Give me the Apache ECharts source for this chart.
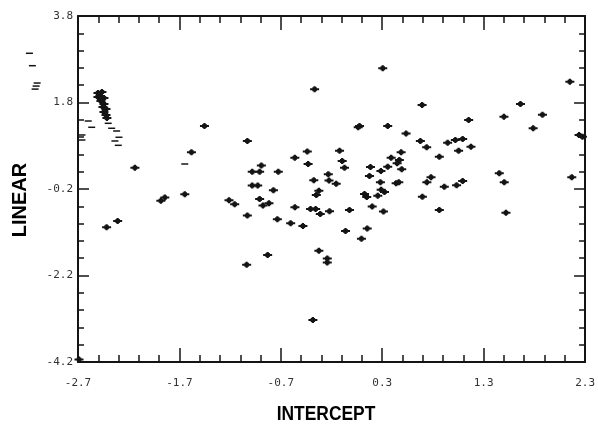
<!DOCTYPE html>
<html>
<head>
<meta charset="utf-8">
<script src="https://cdn.jsdelivr.net/npm/echarts@6/dist/echarts.min.js"></script>
<style>
html,body{margin:0;padding:0;background:#fff;}
#chart{width:598px;height:426px;}
</style>
</head>
<body>
<div id="chart"></div>
<script>
// Axis titles and tick values
const xName = 'INTERCEPT';
const yName = 'LINEAR';
const xTicks = [-2.7, -1.7, -0.7, 0.3, 1.3, 2.3];
const yTicks = [-4.2, -2.2, -0.2, 1.8, 3.8];

// Plotted "+" markers
const intercept = [
  -0.367, 0.305, 0.693, 0.354, 0.535, 0.676, 0.738, 0.863, 0.945, 1.021,
  1.093, 1.053, 1.152, 1.175, 1.500, 1.663, 1.880, 1.788, 2.150, 2.241,
  2.274, 2.169, 1.454, 1.503, 1.520, 0.863, 0.312, 0.781, 0.740, 0.912,
  1.033, 1.093, 0.696, 0.486, 0.388, 0.469, 0.447, 0.354, 0.492, 0.287,
  0.184, 0.174, 0.282, 0.437, 0.463, 0.076, 0.063, -0.121, -0.095, -0.072,
  -0.439, -0.431, -0.562, -0.232, -0.375, -0.225, -0.154, -0.325, -0.350, 0.125,
  0.147, 0.256, 0.289, 0.322, -0.407, -0.357, -0.311, -0.220, -0.023, 0.201,
  -0.482, -0.062, 0.152, 0.095, -0.325, -0.242, -0.242, -0.384, -1.453, -1.030,
  -1.581, -0.892, -0.982, -0.909, -0.725, -0.982, -0.928, -0.773, -1.647, -1.211,
  -1.155, -0.909, -0.876, -0.817, -1.030, -0.734, -0.603, -0.561, -0.830, -1.037,
  -2.139, -1.883, -1.844, -2.418, -2.309, -2.690,
  -2.503, -2.464, -2.483, -2.444, -2.474, -2.444, -2.454, -2.424, -2.444, -2.424, -2.415, -2.503
];
const linear = [
  2.105, 2.591, 1.742, 1.257, 1.083, 0.910, 0.764, 0.547, 0.871, 0.933,
  0.956, 0.686, 1.395, 0.778, 1.472, 1.765, 1.518, 1.204, 2.281, 1.049,
  1.009, 0.070, 0.163, -0.045, -0.748, -0.685, -0.720, 0.070, -0.045, -0.147,
  -0.114, -0.015, -0.378, 0.649, 0.524, 0.471, 0.394, 0.316, 0.256, 0.216,
  0.309, 0.101, -0.045, -0.068, -0.045, 1.257, 1.227, 0.686, 0.447, 0.293,
  0.667, 0.378, 0.521, 0.140, 0.001, -0.003, -0.080, -0.239, -0.339, -0.316,
  -0.385, -0.355, -0.216, -0.269, -0.662, -0.662, -0.778, -0.713, -0.685, -0.605,
  -1.055, -1.171, -1.113, -1.349, -1.626, -1.807, -1.899, -3.229, 1.257, 0.910,
  0.649, 0.343, 0.200, 0.200, 0.200, -0.119, -0.119, -0.228, -0.320, -0.461,
  -0.551, -0.431, -0.581, -0.531, -0.813, -0.901, -0.993, -0.623, -1.726, -1.950,
  0.293, -0.470, -0.396, -1.085, -0.940, -4.142,
  2.020, 2.043, 1.950, 1.904, 1.835, 1.765, 1.696, 1.650, 1.580, 1.511, 1.442, 1.927
];

// Short dash marks (overprinted / off-scale points)
const dashIntercept = [
  -1.647, -3.179, -3.150, -3.103, -3.113, -3.123,
  -2.599, -2.565, -2.661, -2.661, -2.402, -2.368, -2.319, -2.296, -2.336, -2.303
];
const dashLinear = [
  0.378, 2.938, 2.651, 2.250, 2.180, 2.110,
  1.372, 1.227, 1.049, 0.933, 1.319, 1.204, 1.141, 0.996, 0.910, 0.810
];

const ink = '#141414';
const plusPath = 'path://M0,2 L2,2 L2,1 L3,1 L3,0 L5,0 L5,1 L6,1 L6,2 L8,2 L8,4 L6,4 L6,5 L5,5 L5,6 L3,6 L3,5 L2,5 L2,4 L0,4 Z';

const mainData = intercept.map((x, i) => [x, linear[i]]);
const dashData = dashIntercept.map((x, i) => [x, dashLinear[i]]);

const xMin = xTicks[0], xMax = xTicks[xTicks.length - 1];
const yMin = yTicks[0], yMax = yTicks[yTicks.length - 1];
const labelFont = { fontFamily: 'DejaVu Sans Mono', fontSize: 11, color: '#333' };
const hiddenSplit = { show: true, lineStyle: { opacity: 0 } };

function xAx(top, showLabel) {
  const a = {
    type: 'value', min: xMin, max: xMax, interval: 1,
    axisLine: { show: true, onZero: false, lineStyle: { color: ink, width: 2 } },
    axisTick: { show: true, inside: true, length: 14, lineStyle: { color: ink, width: 1.5 } },
    minorTick: { show: true, splitNumber: 5, length: 7, lineStyle: { color: ink, width: 1.5 } },
    axisLabel: { show: showLabel, margin: 16, ...labelFont, formatter: v => v.toFixed(1) },
    splitLine: hiddenSplit
  };
  if (top) a.position = 'top';
  return a;
}
function yAx(right, showLabel) {
  const a = {
    type: 'value', min: yMin, max: yMax, interval: 2,
    axisLine: { show: true, onZero: false, lineStyle: { color: ink, width: 2 } },
    axisTick: { show: true, inside: true, length: 11, lineStyle: { color: ink, width: 1.5 } },
    minorTick: { show: true, splitNumber: 5, length: 6, lineStyle: { color: ink, width: 1.5 } },
    axisLabel: { show: showLabel, margin: 5, ...labelFont, formatter: v => v.toFixed(1) },
    splitLine: hiddenSplit
  };
  if (right) a.position = 'right';
  return a;
}

const chart = echarts.init(document.getElementById('chart'));
chart.setOption({
  animation: false,
  backgroundColor: '#fff',
  grid: { left: 78, right: 12, top: 16, bottom: 64 },
  xAxis: [xAx(false, true), xAx(true, false)],
  yAxis: [yAx(false, true), yAx(true, false)],
  graphic: [
    {
      type: 'text', x: 20, y: 200, rotation: Math.PI / 2,
      style: { text: yName, fontFamily: 'Liberation Sans', fontWeight: 'bold', fontSize: 20, fill: '#000', align: 'center', verticalAlign: 'middle' }
    },
    {
      type: 'text', x: 326, y: 414, scaleX: 0.87,
      style: { text: xName, fontFamily: 'Liberation Sans', fontWeight: 'bold', fontSize: 20, fill: '#000', align: 'center', verticalAlign: 'middle' }
    }
  ],
  series: [
    {
      type: 'scatter', data: mainData,
      symbol: plusPath, symbolSize: [9, 6], symbolKeepAspect: false,
      itemStyle: { color: ink, opacity: 1 }, clip: false, silent: true
    },
    {
      type: 'scatter', data: dashData,
      symbol: 'rect', symbolSize: [7, 1.5],
      itemStyle: { color: ink, opacity: 1 }, clip: false, silent: true
    }
  ]
});
</script>
</body>
</html>
